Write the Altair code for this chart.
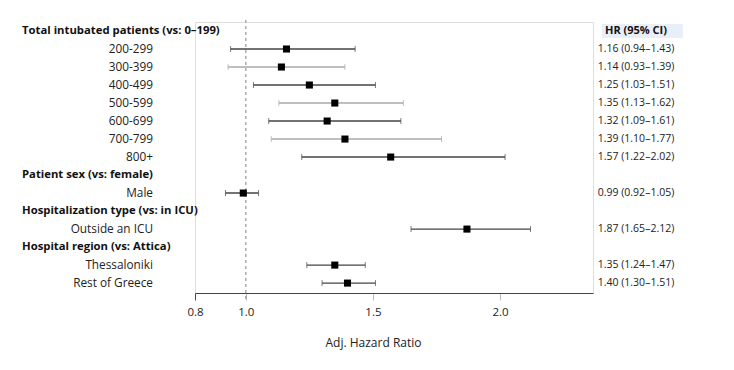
import altair as alt
import pandas as pd

labels = ["Total intubated patients (vs: 0–199)", "200-299", "300-399", "400-499",
          "500-599", "600-699", "700-799", "800+",
          "Patient sex (vs: female)", "Male",
          "Hospitalization type (vs: in ICU)", "Outside an ICU",
          "Hospital region (vs: Attica)", "Thessaloniki", "Rest of Greece"]
is_header = [True, False, False, False, False, False, False, False,
             True, False, True, False, True, False, False]
hr = [None, 1.16, 1.14, 1.25, 1.35, 1.32, 1.39, 1.57, None, 0.99, None, 1.87, None, 1.35, 1.40]
lower = [None, 0.94, 0.93, 1.03, 1.13, 1.09, 1.10, 1.22, None, 0.92, None, 1.65, None, 1.24, 1.30]
upper = [None, 1.43, 1.39, 1.51, 1.62, 1.61, 1.77, 2.02, None, 1.05, None, 2.12, None, 1.47, 1.51]
shade = ["", "#444444", "#aaaaaa", "#444444", "#aaaaaa", "#444444", "#aaaaaa", "#444444",
         "", "#444444", "", "#444444", "", "#444444", "#444444"]
tick_values = [0.8, 1.0, 1.5, 2.0]

def ci_text(h, l, u):
    if h is None:
        return ""
    return f"{h:.2f} ({l:.2f}–{u:.2f})"

df = pd.DataFrame({
    "row": list(range(len(labels))),
    "label": labels,
    "header": is_header,
    "hr": hr, "lower": lower, "upper": upper,
    "shade": shade,
    "ci": [ci_text(h, l, u) for h, l, u in zip(hr, lower, upper)],
})
df.loc[0, "ci"] = "HR (95% CI)"

FONT = "Open Sans"
W, H = 398, 271

xs = alt.Scale(domain=[0.8, 2.366], nice=False, zero=False)
ys = alt.Scale(domain=[-0.5, 14.55], reverse=True, nice=False, zero=False)
y_enc = alt.Y("row:Q", scale=ys, axis=None)

base = alt.Chart(df)
est = base.transform_filter("datum.hr != null")

highlight = alt.Chart(pd.DataFrame({"a": [0]})).mark_rect(color="#e9eff8").encode(
    x=alt.value(407), x2=alt.value(488), y=alt.value(2), y2=alt.value(16))

ref = alt.Chart(pd.DataFrame({"v": [1.0]})).mark_rule(
    color="#999999", strokeDash=[3, 3], strokeWidth=1.2).encode(
    x=alt.X("v:Q", scale=xs,
            axis=alt.Axis(values=tick_values, format=".1f", title="Adj. Hazard Ratio",
                          grid=False, domainColor="#444444",
                          tickColor=alt.condition(alt.datum.value == 0.8,
                                                  alt.value("#444444"), alt.value("#bbbbbb")),
                          tickSize=7, labelPadding=6, titlePadding=20,
                          labelFlush=False, labelOverlap=False,
                          titleX=178, titleAlign="center",
                          labelFont=FONT, labelFontSize=11.5, labelColor="#222222",
                          titleFont=FONT, titleFontSize=12, titleFontWeight="normal",
                          titleColor="#222222")),
    y=alt.value(-2), y2=alt.value(H + 7))

ci = est.mark_rule(strokeWidth=1.4).encode(
    x=alt.X("lower:Q", scale=xs), x2="upper:Q", y=y_enc,
    color=alt.Color("shade:N", scale=None))

cap_lo = est.mark_point(shape="M0,-1L0,1", size=36, filled=False, strokeWidth=1).encode(
    x=alt.X("lower:Q", scale=xs), y=y_enc, color=alt.Color("shade:N", scale=None))
cap_hi = est.mark_point(shape="M0,-1L0,1", size=36, filled=False, strokeWidth=1).encode(
    x=alt.X("upper:Q", scale=xs), y=y_enc, color=alt.Color("shade:N", scale=None))

pts = est.mark_square(size=50, color="black", opacity=1).encode(
    x=alt.X("hr:Q", scale=xs), y=y_enc)

head_txt = base.transform_filter("datum.header").mark_text(
    align="left", baseline="middle", font=FONT, fontSize=11.3, fontWeight="bold",
    color="#111111").encode(x=alt.value(-173), y=y_enc, text="label:N")

sub_txt = base.transform_filter("!datum.header").mark_text(
    align="right", baseline="middle", font=FONT, fontSize=11.8, color="#222222").encode(
    x=alt.value(-42), y=y_enc, text="label:N")

right_head = base.transform_filter("datum.row == 0").mark_text(
    align="center", baseline="middle", font=FONT, fontSize=11, fontWeight="bold",
    color="#111111").encode(x=alt.value(441), y=y_enc, text="ci:N")

right_txt = base.transform_filter("datum.row > 0 && datum.ci != ''").mark_text(
    align="center", baseline="middle", font=FONT, fontSize=10.5, color="#222222").encode(
    x=alt.value(441), y=y_enc, text="ci:N")

chart = alt.layer(highlight, ref, ci, cap_lo, cap_hi, pts, head_txt, sub_txt,
                  right_head, right_txt).properties(
    width=W, height=H,
    autosize=alt.AutoSizeParams(type="none"),
    padding={"left": 187, "top": 14, "right": 133, "bottom": 69},
).configure_view(stroke=None).configure(background="white")

chart.save("out.html", embed_options={"renderer": "svg", "actions": False})
